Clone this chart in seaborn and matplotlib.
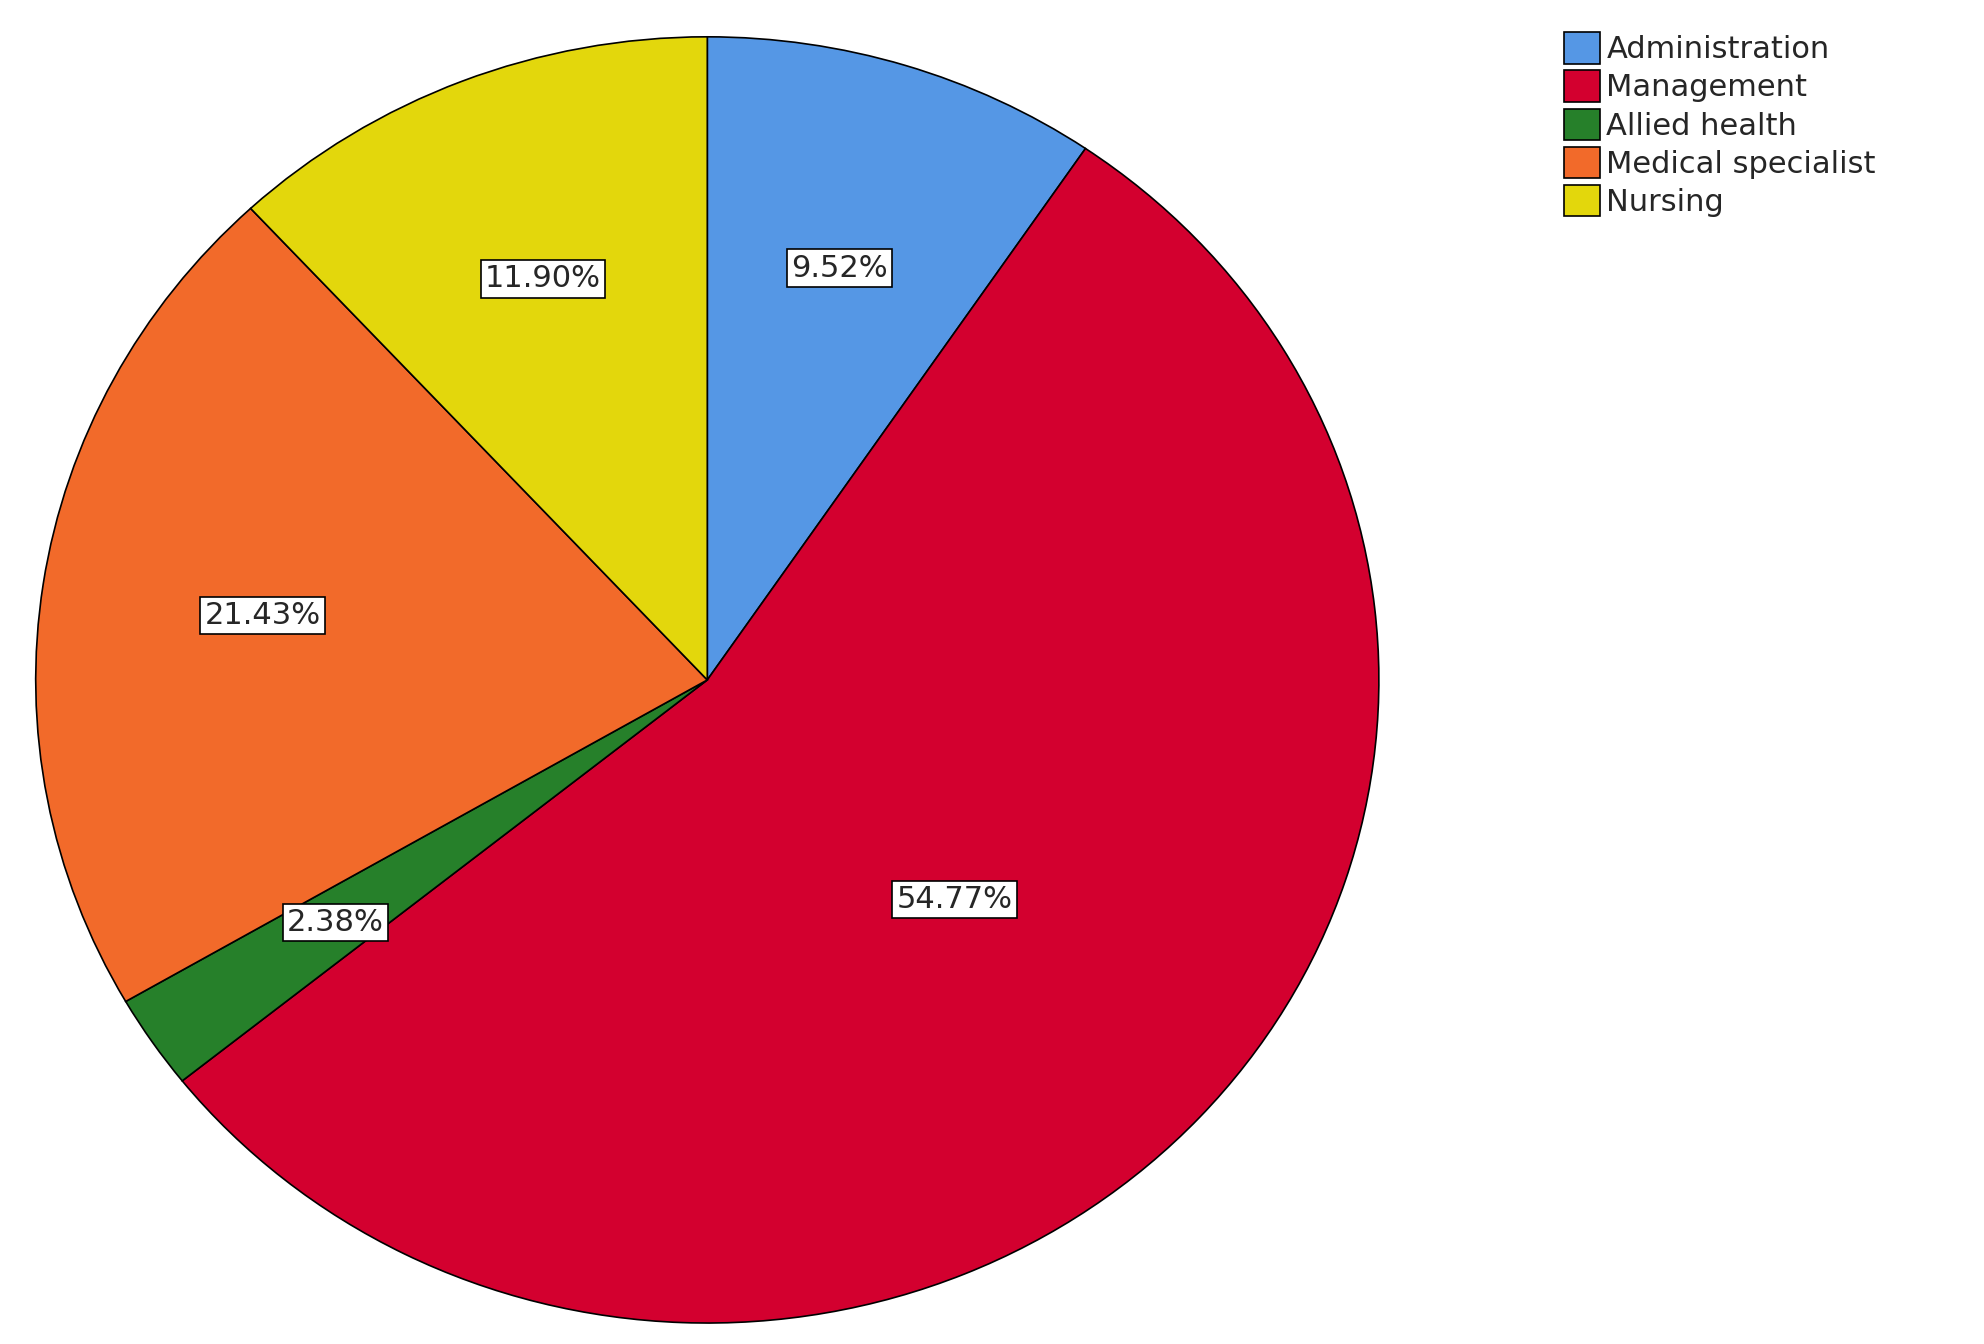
import matplotlib
matplotlib.use('Agg')
import matplotlib.pyplot as plt
import seaborn as sns

categories = ['Administration', 'Management', 'Allied health', 'Medical specialist', 'Nursing']
percentages = [9.52, 54.76, 2.38, 21.43, 11.90]
colors = ['#5597E5', '#D3002F', '#26802A', '#F26A2A', '#E3D70C']

sns.set_theme(style='white')
plt.rcParams['font.family'] = ['DejaVu Sans']

fig = plt.figure(figsize=(19.84, 13.44), dpi=100)
ax = fig.add_axes([0.018, 0.0156, 0.677, 0.957])
wedges, texts, autotexts = ax.pie(
    percentages, colors=colors, startangle=90, counterclock=False,
    autopct='%.2f%%', pctdistance=0.67,
    wedgeprops={'edgecolor': 'black', 'linewidth': 1.2},
    textprops={'fontsize': 22})
for t in autotexts:
    t.set_bbox({'facecolor': 'white', 'edgecolor': 'black', 'linewidth': 1.2, 'pad': 3})
# management label sits closer to centre
x, y = autotexts[1].get_position()
autotexts[1].set_position((x * 0.75, y * 0.75))
ax.set_aspect('auto')
ax.set_xlim(-1.0, 1.0)
ax.set_ylim(-1.0, 1.0)
ax.axis('off')

fig.legend(wedges, categories, loc='upper left', bbox_to_anchor=(0.782, 0.985),
           frameon=False, fontsize=22, handlelength=1.2, handleheight=1.2,
           handletextpad=0.2, labelspacing=0.2, borderaxespad=0)
for h in fig.legends[0].legend_handles:
    h.set_edgecolor('black')
fig.savefig('out.png', dpi=100, facecolor='white')
